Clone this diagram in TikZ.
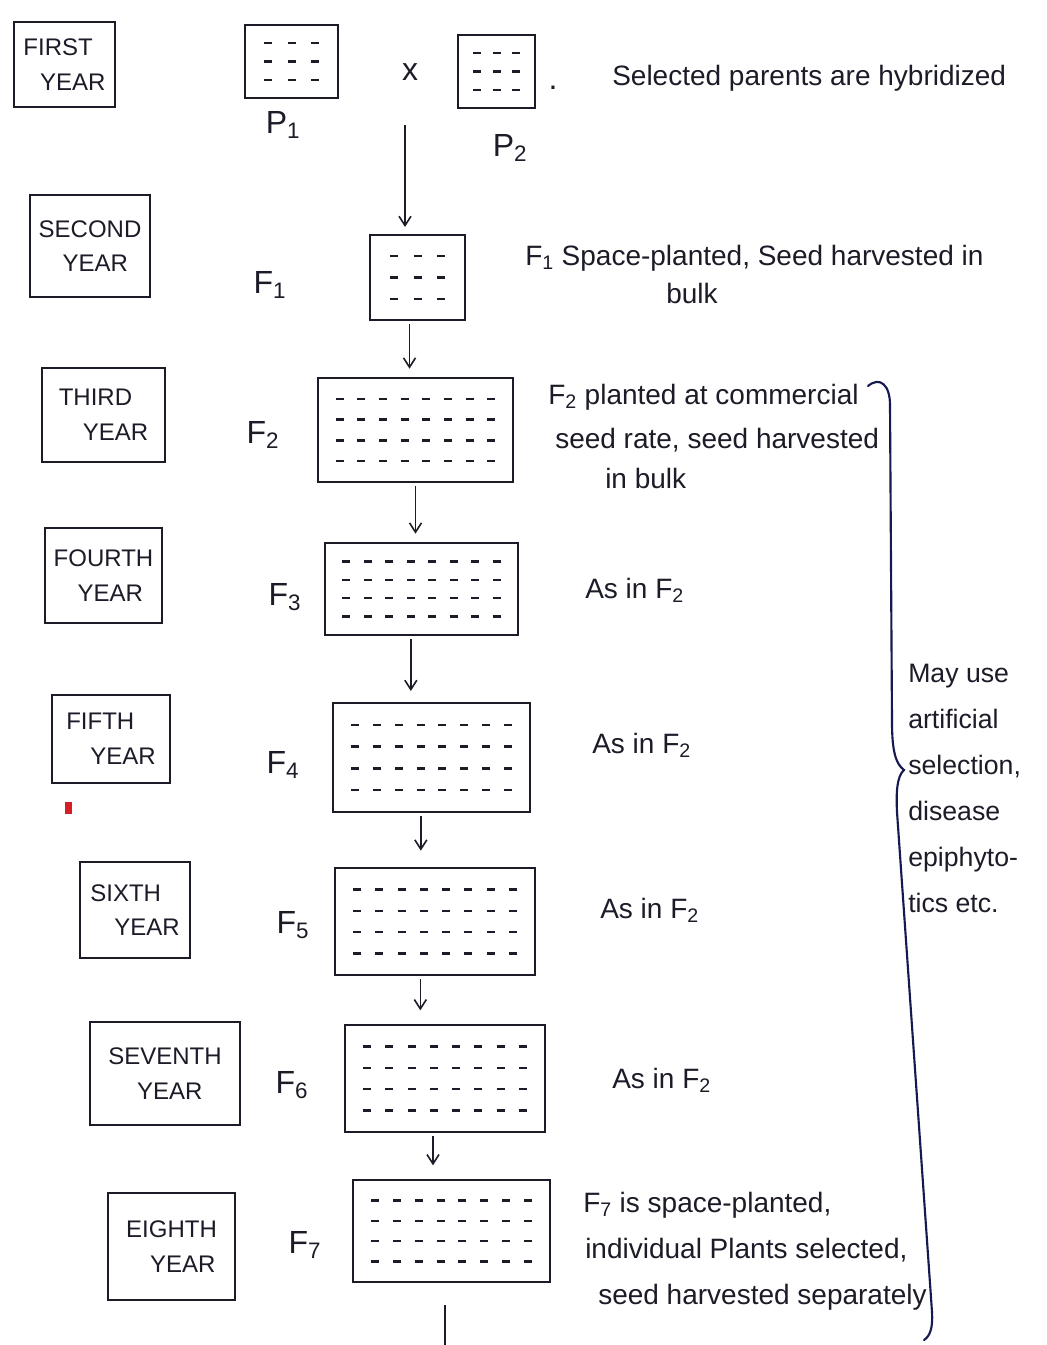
\documentclass[tikz,border=0pt]{standalone}
\usepackage{fontspec}
\setmainfont{Liberation Sans}
\usetikzlibrary{arrows.meta,calc}
\definecolor{ink}{RGB}{28,28,40}
\definecolor{bink}{RGB}{22,26,80}
\definecolor{redmark}{RGB}{215,30,40}
\newcommand\handfont{\fontsize{21}{28}\selectfont}
\newcommand\genfont{\fontsize{24}{28}\selectfont}
\newcommand\yearfont{\fontsize{18}{26}\selectfont}
% name, cx, cy, w, h, rows, cols
\newcommand\plotgrid[7]{%
  \node[fieldbox, minimum width=#4*0.75pt, minimum height=#5*0.75pt] (#1) at (#2,#3) {};
  \foreach \ii in {1,...,#6}{\foreach \jj in {1,...,#7}{
    \draw[seedmark] ({#2-#4/2+\jj*#4/(#7+1)-4},{#3-#5/2+\ii*#5/(#6+1)}) -- ++(8,0);}}
}
\tikzset{
  yearbox/.style={draw=ink, line width=1.6pt, align=left, font=\yearfont, text=ink, inner sep=2pt},
  fieldbox/.style={draw=ink, line width=2pt, inner sep=0pt},
  seedmark/.style={draw=ink, line width=1.8pt},
  gen/.style={font=\genfont, text=ink, inner sep=0pt},
  note/.style={font=\handfont, text=ink, inner sep=0pt, anchor=west},
  arr/.style={draw=ink, line width=1.2pt, -{Straight Barb[length=7pt,width=9pt]}},
}
\begin{document}
\begin{tikzpicture}[x=0.75pt, y=-0.75pt]
\useasboundingbox[fill=white] (0,0) rectangle (1046,1345);

% year boxes
\node[yearbox, minimum width=101*0.75pt, minimum height=85*0.75pt] (y1) at (64.5,64.5) {FIRST\\\hspace*{0.7em}YEAR};
\node[yearbox, minimum width=120*0.75pt, minimum height=102*0.75pt] (y2) at (90,246) {SECOND\\\hspace*{1em}YEAR};
\node[yearbox, minimum width=123*0.75pt, minimum height=94*0.75pt] (y3) at (103.5,415) {THIRD\\\hspace*{1em}YEAR};
\node[yearbox, minimum width=117*0.75pt, minimum height=95*0.75pt] (y4) at (103.5,575.5) {FOURTH\\\hspace*{1em}YEAR};
\node[yearbox, minimum width=118*0.75pt, minimum height=88*0.75pt] (y5) at (111,739) {FIFTH\\\hspace*{1em}YEAR};
\node[yearbox, minimum width=110*0.75pt, minimum height=96*0.75pt] (y6) at (135,910) {SIXTH\\\hspace*{1em}YEAR};
\node[yearbox, minimum width=150*0.75pt, minimum height=103*0.75pt] (y7) at (165,1073.5) {SEVENTH\\\hspace*{1.2em}YEAR};
\node[yearbox, minimum width=127*0.75pt, minimum height=107*0.75pt] (y8) at (171.5,1246.5) {EIGHTH\\\hspace*{1em}YEAR};

% field plots
\plotgrid{p1}{291.5}{61.5}{93}{73}{3}{3}
\plotgrid{p2}{496.5}{71.5}{77}{73}{3}{3}
\plotgrid{f1}{417.5}{277.5}{95}{85}{3}{3}
\plotgrid{f2}{415.5}{430}{195}{104}{4}{8}
\plotgrid{f3}{421.5}{589}{193}{92}{4}{8}
\plotgrid{f4}{431.5}{757.5}{197}{109}{4}{8}
\plotgrid{f5}{435}{921.5}{200}{107}{4}{8}
\plotgrid{f6}{445}{1078.5}{200}{107}{4}{8}
\plotgrid{f7}{451.5}{1231}{197}{102}{4}{8}

% cross sign and dot
\node[gen] (cross) at (410,72) {x};
\node[gen] (dot) at (553,88) {.};

% generation labels
\node[gen] (lp1) at (283,125) {P\textsubscript{1}};
\node[gen] (lp2) at (510,148) {P\textsubscript{2}};
\node[gen] (lf1) at (270,285) {F\textsubscript{1}};
\node[gen] (lf2) at (263,435) {F\textsubscript{2}};
\node[gen] (lf3) at (285,597) {F\textsubscript{3}};
\node[gen] (lf4) at (283,765) {F\textsubscript{4}};
\node[gen] (lf5) at (293,925) {F\textsubscript{5}};
\node[gen] (lf6) at (292,1085) {F\textsubscript{6}};
\node[gen] (lf7) at (305,1245) {F\textsubscript{7}};

% arrows
\coordinate (xstart) at (405,125);
\draw[arr, shorten >=5pt] (xstart) -- (xstart |- f1.north);
\draw[arr, shorten <=2pt, shorten >=6pt] ([xshift=-6pt]f1.south) -- ([xshift=-6pt]f1.south |- f2.north);
\draw[arr, shorten <=2pt, shorten >=6pt] (f2.south) -- (f2.south |- f3.north);
\draw[arr, shorten <=2pt, shorten >=8pt] ([xshift=-8pt]f3.south) -- ([xshift=-8pt]f3.south |- f4.north);
\draw[arr, shorten <=2pt, shorten >=12pt] ([xshift=-8pt]f4.south) -- ([xshift=-8pt]f4.south |- f5.north);
\draw[arr, shorten <=2pt, shorten >=10pt] ([xshift=-11pt]f5.south) -- ([xshift=-11pt]f5.south |- f6.north);
\draw[arr, shorten <=2pt, shorten >=10pt] ([xshift=-9pt]f6.south) -- ([xshift=-9pt]f6.south |- f7.north);
\coordinate (tailtop) at (445,1305);
\coordinate (tailbot) at (445,1345);
\draw[draw=ink, line width=1.2pt] (tailtop) -- (tailbot);

% descriptions
\node[note] (t0) at (612,78) {Selected parents are hybridized};
\node[note] (t1a) at (525,258) {F\textsubscript{1} Space-planted, Seed harvested in};
\node[note] (t1b) at (666,293) {bulk};
\node[note] (t2a) at (548,397) {F\textsubscript{2} planted at commercial};
\node[note] (t2b) at (555,440) {seed rate, seed harvested};
\node[note] (t2c) at (605,478) {in bulk};
\node[note] (t3) at (585,590) {As in F\textsubscript{2}};
\node[note] (t4) at (592,745) {As in F\textsubscript{2}};
\node[note] (t5) at (600,910) {As in F\textsubscript{2}};
\node[note] (t6) at (612,1080) {As in F\textsubscript{2}};
\node[note] (t7a) at (583,1205) {F\textsubscript{7} is space-planted,};
\node[note] (t7b) at (585,1250) {individual Plants selected,};
\node[note] (t7c) at (598,1297) {seed harvested separately};

% brace and side note
\draw[draw=bink, line width=1.6pt, line cap=round]
  (868,386) .. controls (880,376) and (890,385) .. (890,405)
  -- (892,722)
  .. controls (892,752) and (896,764) .. (904,770)
  .. controls (897,776) and (896,792) .. (897,812)
  -- (932,1312)
  .. controls (933,1328) and (930,1336) .. (924,1340);
\node[font=\fontsize{20}{34.5}\selectfont, text=ink, inner sep=0pt, anchor=north west, align=left] (side) at (908,664)
  {May use\\artificial\\selection,\\disease\\epiphyto-\\tics etc.};

% small red mark
\fill[redmark] (65,802) rectangle (72,814);
\end{tikzpicture}
\end{document}
